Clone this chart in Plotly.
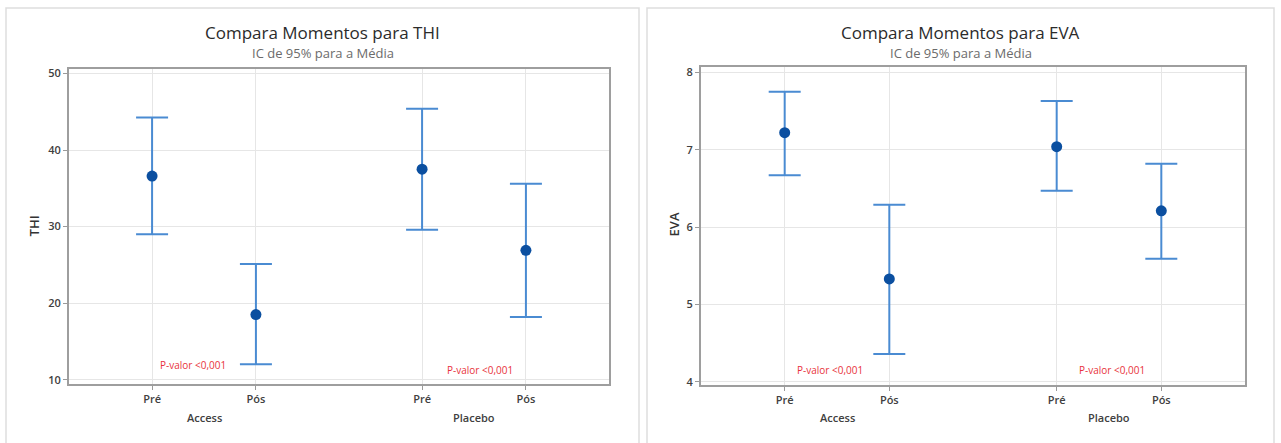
import plotly.graph_objects as go

# ---- data ----
moments = ["Pré", "Pós", "Pré", "Pós"]
groups = ["Access", "Placebo"]

thi_mean = [36.6, 18.5, 37.5, 26.9]
thi_lower = [29.0, 12.0, 29.6, 18.2]
thi_upper = [44.25, 25.1, 45.4, 35.6]

eva_mean = [7.22, 5.33, 7.04, 6.21]
eva_lower = [6.67, 4.36, 6.47, 5.59]
eva_upper = [7.75, 6.29, 7.63, 6.82]

pvalue_text = "P-valor <0,001"
titles = ["Compara Momentos para THI", "Compara Momentos para EVA"]
subtitle = "IC de 95% para a Média"
ytitles = ["THI", "EVA"]

# ---- layout helpers ----
W, H = 1281, 443
xpos = [1.0, 2.0, 3.6, 4.6]          # category positions (Minitab-like grouping gap)
group_centers = [1.5, 4.1]
xrange_ = [0.2, 5.4]

FONT = "Open Sans"
ERR_COLOR = "#4a8bd2"
MARK_COLOR = "#0b4fa0"
GRID = "#e6e6e6"
FRAME = "#9e9e9e"
TICKCOL = "#404040"

fig = go.Figure()

panels = [
    dict(mean=thi_mean, lo=thi_lower, hi=thi_upper, xa="x", ya="y",
         xdom=[69 / W, 609 / W], ydom=[(H - 387) / H, (H - 67) / H],
         yrange=[9.45, 50.6], ytick=[10, 20, 30, 40, 50],
         pv=[(1.39, 11.9), (4.16, 11.3)], center=(6 + 639) / 2, ytx=34,
         yty=(H - 227) / H),
    dict(mean=eva_mean, lo=eva_lower, hi=eva_upper, xa="x2", ya="y2",
         xdom=[701 / W, 1245 / W], ydom=[(H - 388) / H, (H - 65) / H],
         yrange=[3.96, 8.07], ytick=[4, 5, 6, 7, 8],
         pv=[(1.43, 4.15), (4.13, 4.15)], center=(647 + 1274) / 2, ytx=674,
         yty=(H - 225) / H),
]

annotations = []
shapes = []
for i, p in enumerate(panels):
    plus = [h - m for h, m in zip(p["hi"], p["mean"])]
    minus = [m - l for m, l in zip(p["mean"], p["lo"])]
    fig.add_trace(go.Scatter(
        x=xpos, y=p["mean"], mode="markers", xaxis=p["xa"], yaxis=p["ya"],
        marker=dict(color=MARK_COLOR, size=11),
        error_y=dict(type="data", symmetric=False, array=plus, arrayminus=minus,
                     color=ERR_COLOR, thickness=2, width=16),
        showlegend=False, hoverinfo="skip"))

    suffix = "" if i == 0 else "2"
    axis_common = dict(showline=True, linecolor=FRAME, linewidth=2, mirror=True,
                       showgrid=True, gridcolor=GRID, gridwidth=1, zeroline=False,
                       ticks="outside", ticklen=4, tickcolor="#9a9a9a",
                       tickfont=dict(family=FONT, size=11, color=TICKCOL, weight=600))
    fig.update_layout(**{
        "xaxis" + suffix: dict(domain=p["xdom"], range=xrange_, tickvals=xpos,
                               ticktext=moments, anchor="y" + suffix, **axis_common),
        "yaxis" + suffix: dict(domain=p["ydom"], range=p["yrange"], tickvals=p["ytick"],
                               anchor="x" + suffix, **axis_common),
    })

    # titles
    annotations.append(dict(text=titles[i], x=p["center"] / W, y=(H - 30) / H,
                            xref="paper", yref="paper", showarrow=False,
                            font=dict(family=FONT, size=17, color="#2b2b2b", weight=500),
                            xanchor="center", yanchor="middle"))
    annotations.append(dict(text=subtitle, x=p["center"] / W, y=(H - 50.5) / H,
                            xref="paper", yref="paper", showarrow=False,
                            font=dict(family=FONT, size=13, color="#6b6b6b"),
                            xanchor="center", yanchor="middle"))
    # y title
    annotations.append(dict(text=ytitles[i], x=p["ytx"] / W, y=p["yty"],
                            xref="paper", yref="paper", showarrow=False, textangle=-90,
                            font=dict(family=FONT, size=13, color="#333333", weight=600),
                            xanchor="center", yanchor="middle"))
    # group labels
    for g, c in zip(groups, group_centers):
        annotations.append(dict(text=g, x=c, y=(H - 421) / H, xref=p["xa"], yref="paper",
                                showarrow=False, xanchor="center", yanchor="middle",
                                font=dict(family=FONT, size=11, color=TICKCOL, weight=600)))
    # p-values
    for (px, py) in p["pv"]:
        annotations.append(dict(text=pvalue_text, x=px, y=py, xref=p["xa"], yref=p["ya"],
                                showarrow=False, xanchor="center", yanchor="middle",
                                font=dict(family=FONT, size=10, color="#e8323c")))

# panel frames
for (x0, x1) in [(6, 639), (647, 1274)]:
    shapes.append(dict(type="rect", xref="paper", yref="paper",
                       x0=x0 / W, x1=x1 / W, y0=-0.05, y1=(H - 5) / H,
                       line=dict(color="#dedede", width=1.5), fillcolor="rgba(0,0,0,0)",
                       layer="below"))

fig.update_layout(width=W, height=H, margin=dict(l=0, r=0, t=0, b=0),
                  paper_bgcolor="white", plot_bgcolor="white",
                  annotations=annotations, shapes=shapes,
                  font=dict(family=FONT))

fig.write_html("out.html", config={"displayModeBar": False},
               post_script="document.body.style.margin='0';document.body.style.overflow='hidden';")
